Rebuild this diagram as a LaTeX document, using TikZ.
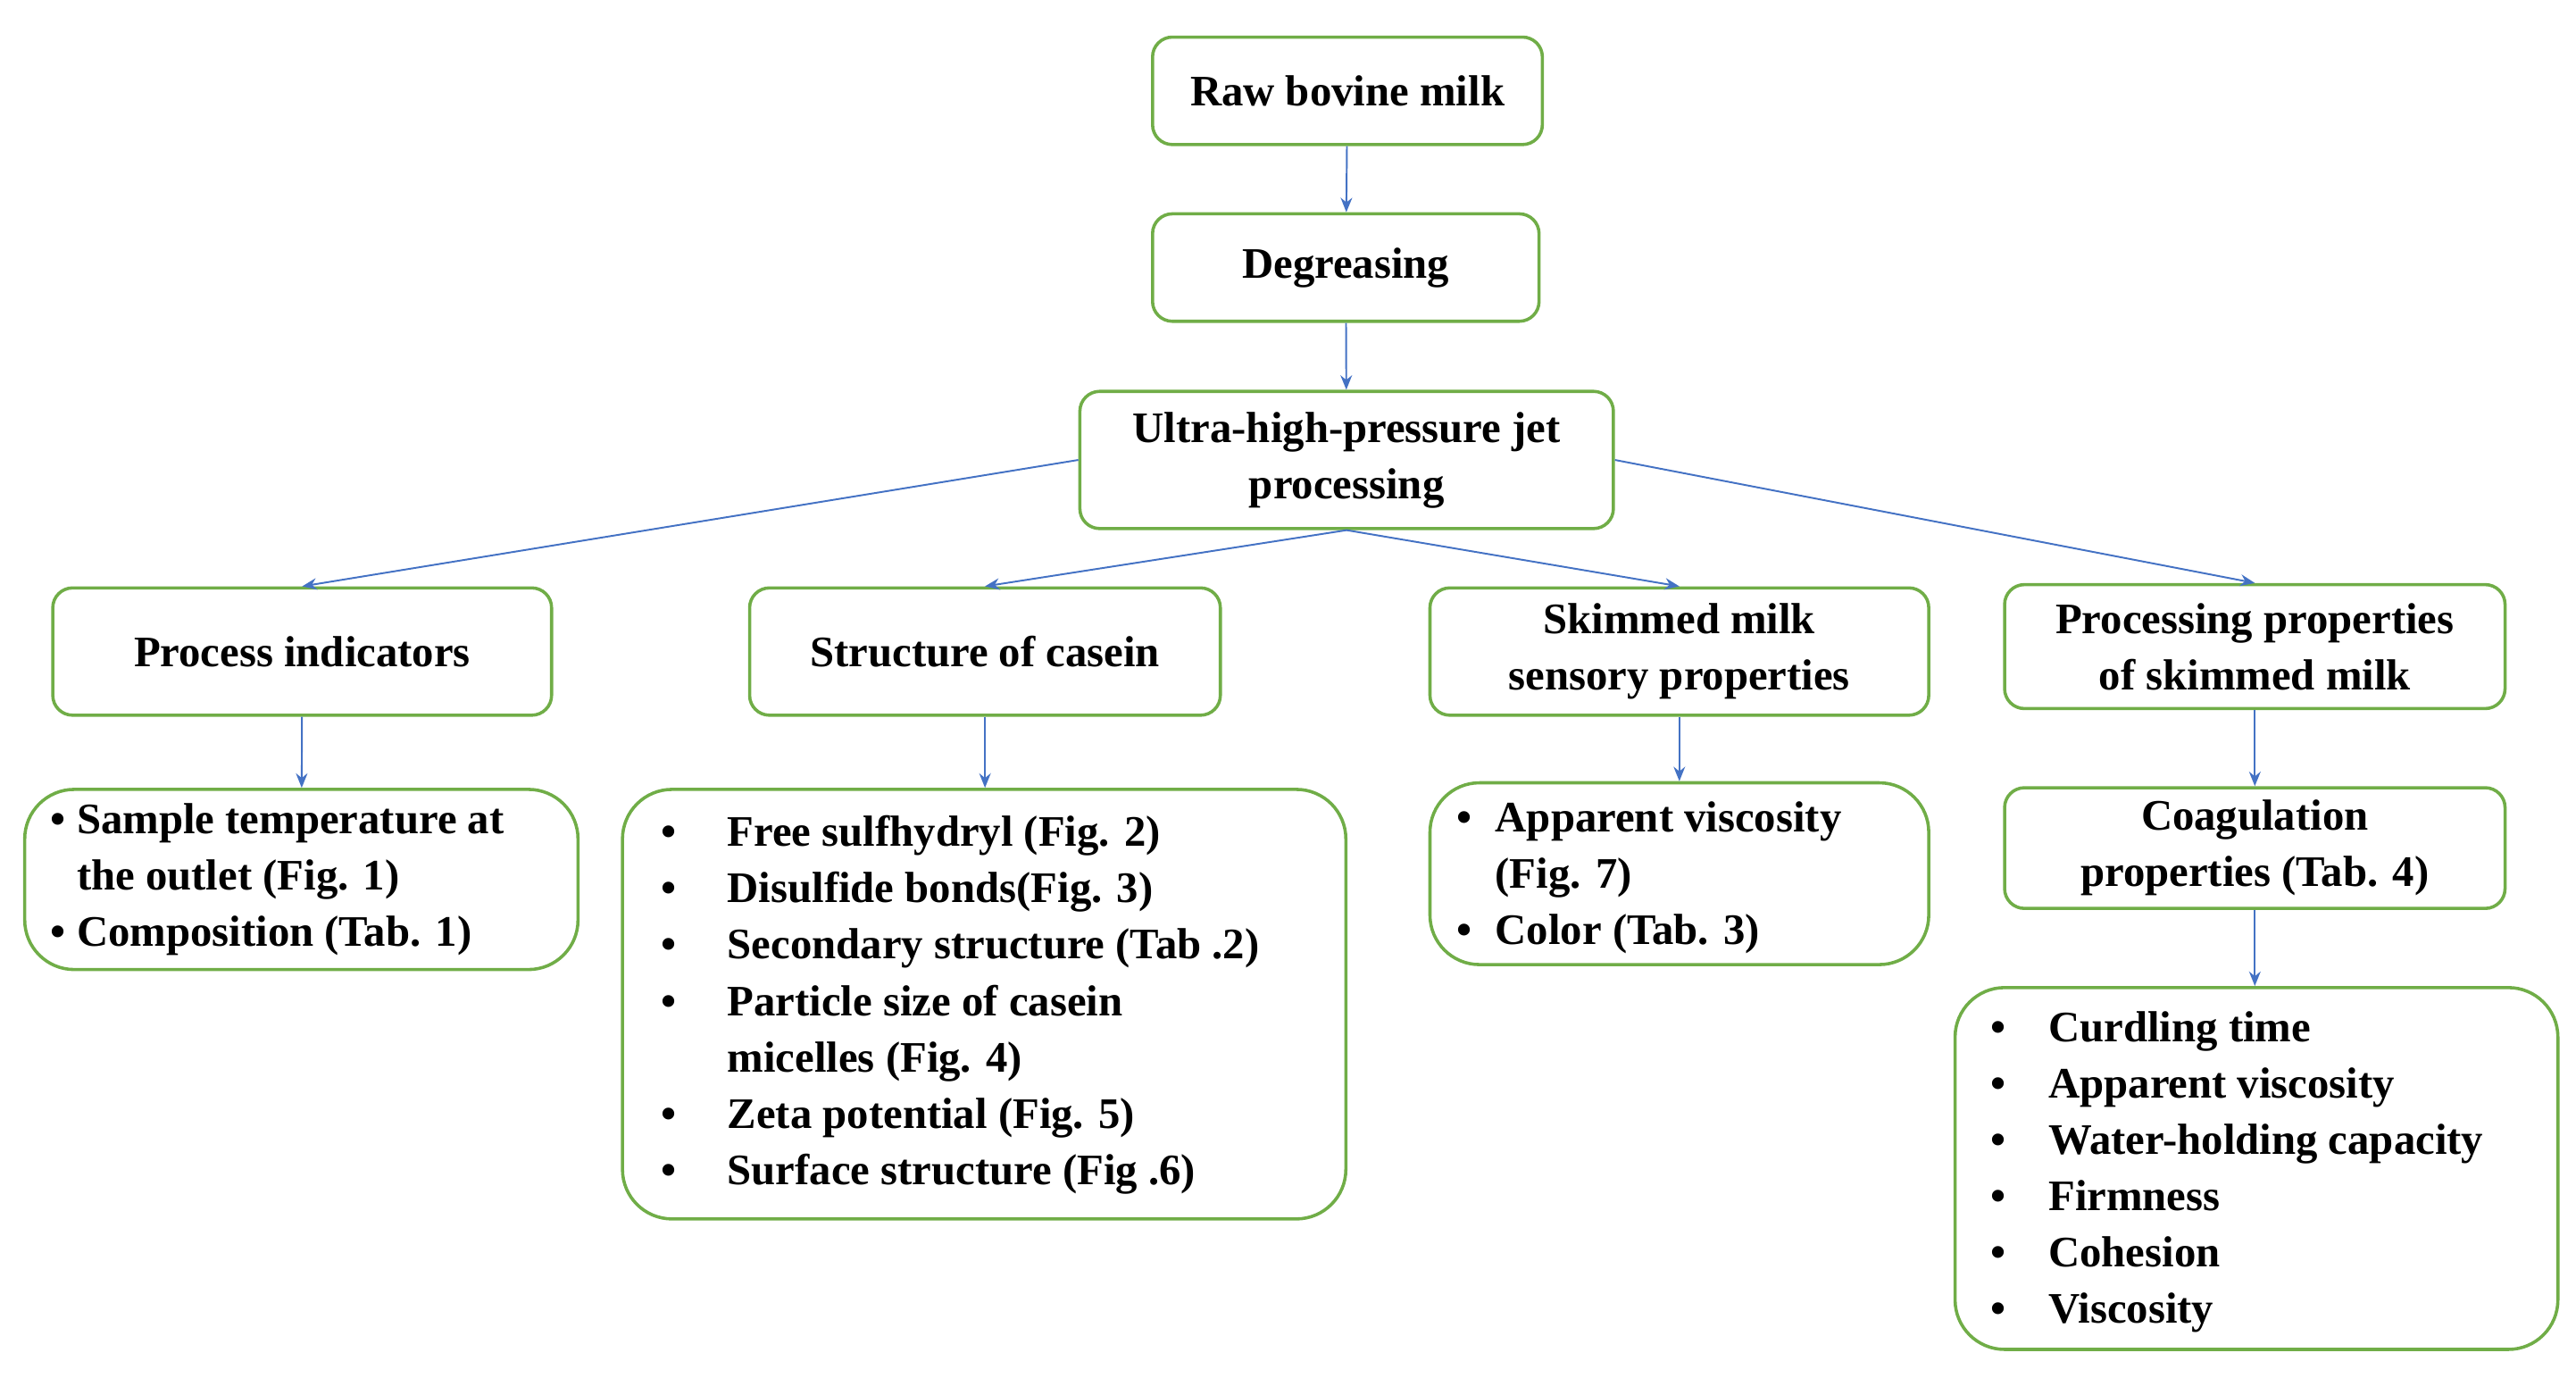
\documentclass[tikz,border=0pt]{standalone}
\usepackage{fontspec}
\setmainfont{Liberation Serif}
\usetikzlibrary{arrows.meta}
\definecolor{gb}{RGB}{112,173,71}
\definecolor{ab}{RGB}{68,114,196}
\begin{document}
\begin{tikzpicture}[x=0.02cm,y=-0.02cm,
 font=\fontsize{15}{19.4}\selectfont\bfseries,
 box/.style={draw=gb,line width=1.1pt,rounded corners=0.24cm,align=center,inner sep=0pt},
 lbox/.style={box,rounded corners=0.6cm},
 arr/.style={draw=ab,line width=0.6pt,-{Stealth[length=5pt,width=4pt]}}]
\useasboundingbox (0,0) rectangle (1560,834);
\newcommand{\bx}[6]{\node[#1,minimum width=#4*0.02cm-1.1pt,minimum height=#5*0.02cm-1.1pt] (#2) at (#3) {#6};}
\bx{box}{raw}{816,55}{238}{67}{Raw bovine milk}
\bx{box}{deg}{815,162}{236}{67}{Degreasing}
\bx{box}{uhp}{815.5,278.5}{325}{85}{Ultra-high-pressure jet\\processing}
\bx{box}{pi}{183,394.5}{304}{79}{Process indicators}
\bx{box}{sc}{596.5,394.5}{287}{79}{Structure of casein}
\bx{box}{sm}{1017,394.5}{304}{79}{Skimmed milk\\sensory properties}
\bx{box}{pp}{1365.5,391.5}{305}{77}{Processing properties\\of skimmed milk}
\bx{lbox}{l1}{182.5,532.5}{337}{111}{}
\bx{lbox}{l2}{596,608}{440}{262}{}
\bx{lbox}{l3}{1017,529}{304}{112}{}
\bx{box}{co}{1365.5,513.5}{305}{75}{Coagulation\\properties (Tab. 4)}
\bx{lbox}{l4}{1366.5,707.5}{367}{221}{}
\node[anchor=west,inner sep=0pt,align=left] at (30,532) {\begin{tabular}{@{}l@{\hspace{0.14cm}}l@{}}\textbullet & Sample temperature at\\ & the outlet (Fig. 1)\\\textbullet & Composition (Tab. 1)\end{tabular}};
\node[anchor=west,inner sep=0pt,align=left] at (400,608) {\begin{tabular}{@{}l@{\hspace{0.62cm}}l@{}}\textbullet & Free sulfhydryl (Fig. 2)\\\textbullet & Disulfide bonds(Fig. 3)\\\textbullet & Secondary structure (Tab .2)\\\textbullet & Particle size of casein\\ & micelles (Fig. 4)\\\textbullet & Zeta potential (Fig. 5)\\\textbullet & Surface structure (Fig .6)\end{tabular}};
\node[anchor=west,inner sep=0pt,align=left] at (882,531) {\begin{tabular}{@{}l@{\hspace{0.28cm}}l@{}}\textbullet & Apparent viscosity\\ & (Fig. 7)\\\textbullet & Color (Tab. 3)\end{tabular}};
\node[anchor=west,inner sep=0pt,align=left] at (1205,709) {\begin{tabular}{@{}l@{\hspace{0.52cm}}l@{}}\textbullet & Curdling time\\\textbullet & Apparent viscosity\\\textbullet & Water-holding capacity\\\textbullet & Firmness\\\textbullet & Cohesion\\\textbullet & Viscosity\end{tabular}};
\draw[arr] (raw) -- (deg);
\draw[arr] (deg) -- (uhp);
\draw[arr] (uhp.west) -- (pi.north);
\draw[arr] (uhp.south) -- (sc.north);
\draw[arr] (uhp.south) -- (sm.north);
\draw[arr] (uhp.east) -- (pp.north);
\draw[arr] (pi) -- (l1);
\draw[arr] (sc) -- (sc.south |- l2.north);
\draw[arr] (sm) -- (l3);
\draw[arr] (pp) -- (co);
\draw[arr] (co) -- (co.south |- l4.north);
\end{tikzpicture}
\end{document}
